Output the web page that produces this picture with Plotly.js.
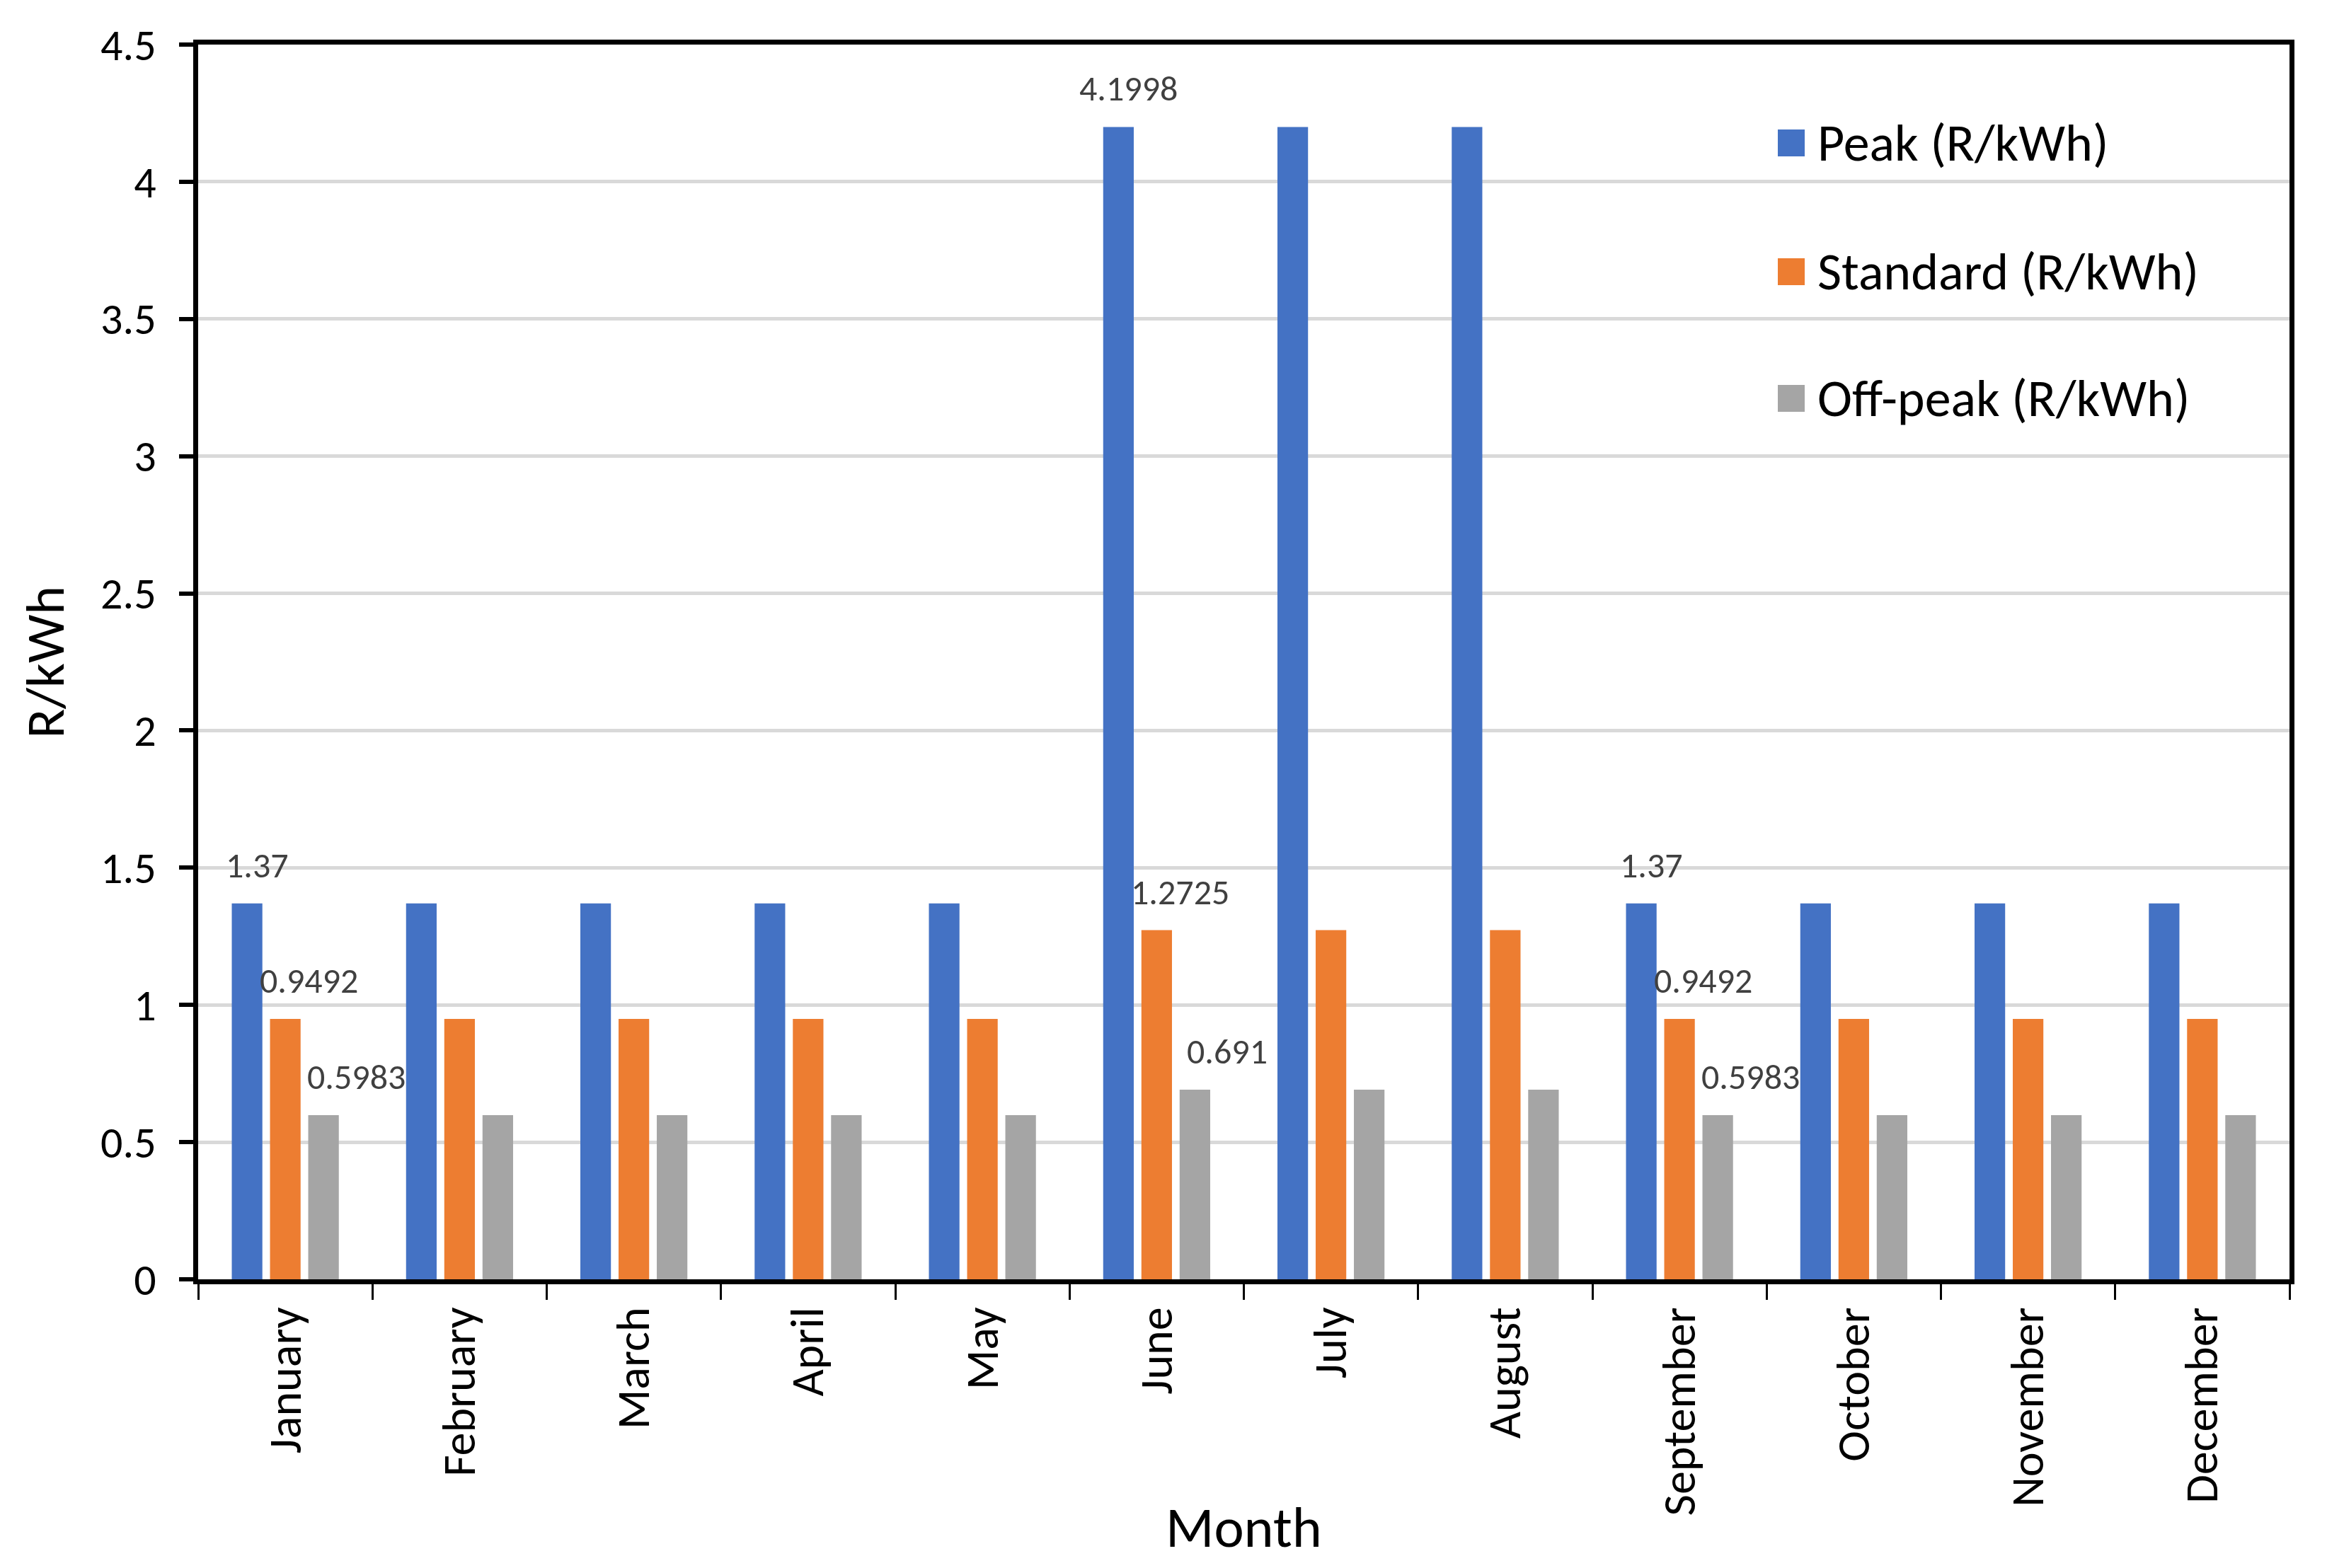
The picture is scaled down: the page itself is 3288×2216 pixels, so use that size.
<!DOCTYPE html>
<html>
<head>
<meta charset="utf-8">
<script src="https://cdn.plot.ly/plotly-3.0.1.min.js"></script>
<style>html,body{margin:0;padding:0;background:#fff;} #chart{width:3288px;height:2216px;}</style>
</head>
<body>
<div id="chart"></div>
<script>
const months = ['January','February','March','April','May','June','July','August','September','October','November','December'];
const peak = [1.37,1.37,1.37,1.37,1.37,4.1998,4.1998,4.1998,1.37,1.37,1.37,1.37];
const standard = [0.9492,0.9492,0.9492,0.9492,0.9492,1.2725,1.2725,1.2725,0.9492,0.9492,0.9492,0.9492];
const offpeak = [0.5983,0.5983,0.5983,0.5983,0.5983,0.691,0.691,0.691,0.5983,0.5983,0.5983,0.5983];
const labeledMonths = ['January','June','September'];
const seriesNames = ['Peak (R/kWh)','Standard (R/kWh)','Off-peak (R/kWh)'];
const seriesColors = ['#4472C4','#ED7D31','#A5A5A5'];
const yTitle = 'R/kWh';
const xTitle = 'Month';

const FONT = 'Carlito, Lato, "Open Sans", sans-serif';
const W = 3288, H = 2216;
const M = {l: 280, r: 53, t: 63, b: 408};
const PW = W - M.l - M.r, PH = H - M.t - M.b;
const px2x = p => (p - M.l) / PW;
const px2y = p => (H - M.b - p) / PH;

const BARGAP = 0.342;
const catW = PW / months.length;
const slotW = catW * (1 - BARGAP) / 3;

const allSeries = [peak, standard, offpeak];
const traces = allSeries.map((vals, k) => ({
  type: 'bar',
  name: seriesNames[k],
  x: months,
  y: vals,
  marker: {color: seriesColors[k]},
  hoverinfo: 'none'
}));

const shapes = [];
const annotations = [];

// data labels (Excel-style, slightly right of each bar)
const labelNudge = [14, 33, 46];
allSeries.forEach((vals, k) => {
  vals.forEach((v, i) => {
    if (!labeledMonths.includes(months[i])) return;
    annotations.push({xref: 'x', yref: 'y', x: months[i], y: v,
      xshift: (k - 1) * slotW + labelNudge[k], yshift: 22,
      xanchor: 'center', yanchor: 'bottom', showarrow: false,
      text: String(v), font: {family: FONT, size: 50, color: '#404040'}});
  });
});

// legend
const legCenters = [202, 384, 563];
seriesNames.forEach((n, k) => {
  const cy = legCenters[k];
  shapes.push({type: 'rect', xref: 'paper', yref: 'paper',
    x0: px2x(2512), x1: px2x(2550), y0: px2y(cy + 19), y1: px2y(cy - 19),
    fillcolor: seriesColors[k], line: {width: 0}});
  annotations.push({xref: 'paper', yref: 'paper', x: px2x(2566), y: px2y(cy),
    xanchor: 'left', yanchor: 'middle', showarrow: false, text: n,
    font: {family: FONT, size: 74, color: '#000'}});
});
annotations.push({xref: 'paper', yref: 'paper', x: 0.5, y: px2y(2158), xanchor: 'center', yanchor: 'middle',
  showarrow: false, text: xTitle, font: {family: FONT, size: 80, color: '#000'}});
annotations.push({xref: 'paper', yref: 'paper', x: px2x(63), y: 0.5, xanchor: 'center', yanchor: 'middle',
  textangle: -90, showarrow: false, text: yTitle, font: {family: FONT, size: 77, color: '#000'}});

const layout = {
  width: W, height: H, autosize: false,
  margin: M,
  paper_bgcolor: '#fff', plot_bgcolor: '#fff',
  font: {family: FONT, color: '#000'},
  showlegend: false,
  barmode: 'group',
  bargap: BARGAP,
  bargroupgap: 0.2,
  xaxis: {
    type: 'category', range: [-0.5, 11.5],
    showline: true, mirror: true, linewidth: 7, linecolor: '#000',
    ticks: 'outside', tickson: 'boundaries', ticklen: 22, tickwidth: 3, tickcolor: '#000',
    tickangle: -90, tickfont: {family: FONT, size: 66, color: '#000'},
    ticklabelstandoff: 6,
    showgrid: false, zeroline: false, automargin: false
  },
  yaxis: {
    range: [0, 4.5], dtick: 0.5, tick0: 0,
    showgrid: true, gridcolor: '#D9D9D9', gridwidth: 5,
    showline: true, mirror: true, linewidth: 7, linecolor: '#000',
    ticks: 'outside', ticklen: 20, tickwidth: 6, tickcolor: '#000',
    tickfont: {family: FONT, size: 62, color: '#000'},
    ticklabelstandoff: 20,
    zeroline: false, automargin: false
  },
  shapes: shapes,
  annotations: annotations
};

Plotly.newPlot('chart', traces, layout, {staticPlot: true, displayModeBar: false});
</script>
</body>
</html>
